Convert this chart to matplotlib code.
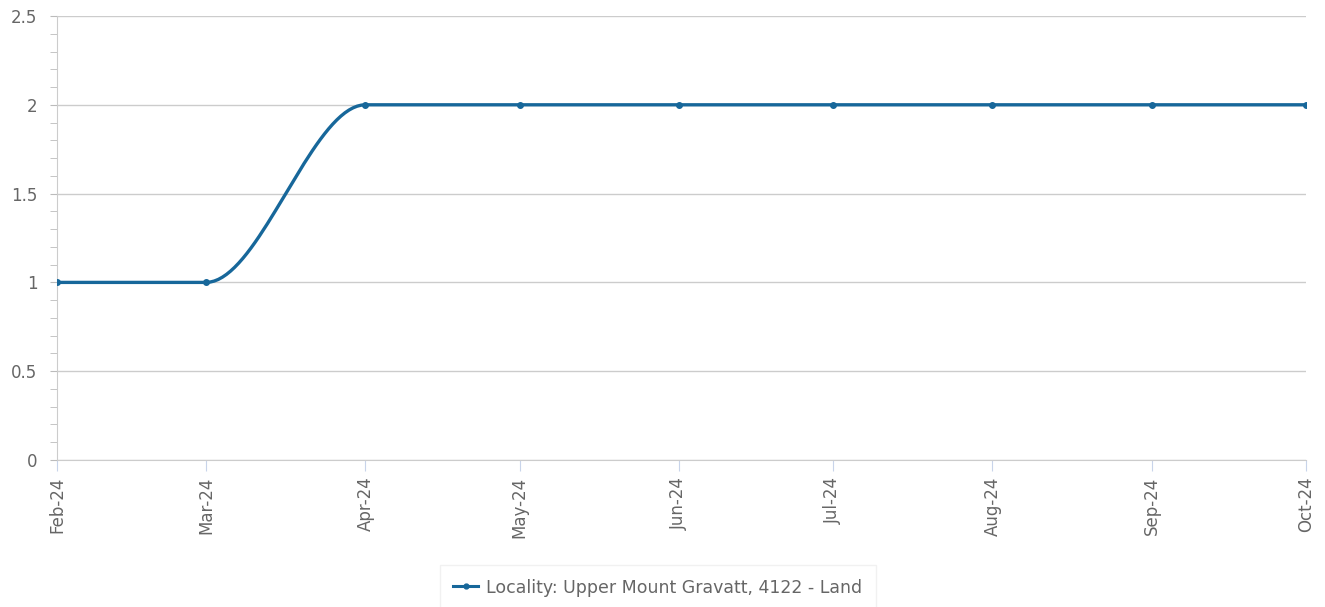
import numpy as np
import matplotlib
matplotlib.use("Agg")
import matplotlib.pyplot as plt
import matplotlib.dates as mdates
from matplotlib.ticker import MultipleLocator
from matplotlib.lines import Line2D
import datetime as dt

plt.rcParams["font.family"] = ["DejaVu Sans"]

# data
months = ["2024-02-01", "2024-03-01", "2024-04-01", "2024-05-01", "2024-06-01",
          "2024-07-01", "2024-08-01", "2024-09-01", "2024-10-01"]
values = [1, 1, 2, 2, 2, 2, 2, 2, 2]
series_name = "Locality: Upper Mount Gravatt, 4122 - Land"

line_color = "#17679a"
text_color = "#666666"
grid_color = "#cccccc"


def monotone_curve(x, y, n=40):
    # Fritsch-Carlson monotone cubic, only used to draw the smooth line
    x = np.asarray(x, float)
    y = np.asarray(y, float)
    h = np.diff(x)
    d = np.diff(y) / h
    m = np.zeros_like(y)
    m[0], m[-1] = d[0], d[-1]
    for i in range(1, len(y) - 1):
        if d[i - 1] * d[i] > 0:
            w1 = 2 * h[i] + h[i - 1]
            w2 = h[i] + 2 * h[i - 1]
            m[i] = (w1 + w2) / (w1 / d[i - 1] + w2 / d[i])
    xs, ys = [], []
    for i in range(len(h)):
        t = np.linspace(0, 1, n)
        h00 = 2 * t**3 - 3 * t**2 + 1
        h10 = t**3 - 2 * t**2 + t
        h01 = -2 * t**3 + 3 * t**2
        h11 = t**3 - t**2
        xs.append(x[i] + t * h[i])
        ys.append(h00 * y[i] + h10 * h[i] * m[i] + h01 * y[i + 1] + h11 * h[i] * m[i + 1])
    return np.concatenate(xs), np.concatenate(ys)


dates = [dt.datetime.strptime(s, "%Y-%m-%d") for s in months]
xnum = mdates.date2num(dates)
cx, cy = monotone_curve(xnum, values)

fig = plt.figure(figsize=(13.25, 6.07), dpi=100)
ax = fig.add_axes([57 / 1325, (607 - 460) / 607, (1306 - 57) / 1325, 444 / 607])

ax.plot(cx, cy, color=line_color, lw=2.4, zorder=3, solid_capstyle="round")
ax.plot(xnum, values, "o", color=line_color, ms=4, zorder=4)

ax.set_xlim(xnum[0], xnum[-1])
ax.set_ylim(0, 2.5)
ax.yaxis.set_major_locator(MultipleLocator(0.5))
ax.yaxis.set_minor_locator(MultipleLocator(0.1))
ax.yaxis.set_major_formatter(plt.FuncFormatter(lambda v, p: f"{v:g}"))
ax.grid(axis="y", which="major", color=grid_color, lw=1)
ax.set_axisbelow(True)

ax.set_xticks(xnum)
ax.set_xticklabels([d.strftime("%b-%y") for d in dates], rotation=90)

for side in ["top", "right"]:
    ax.spines[side].set_visible(False)
ax.spines["left"].set_color(grid_color)
ax.spines["bottom"].set_color(grid_color)

ax.tick_params(axis="y", which="major", length=5, color="#bbbbbb",
               labelcolor=text_color, labelsize=12, pad=9)
ax.tick_params(axis="y", which="minor", length=5, color="#bbbbbb")
ax.tick_params(axis="x", length=8, color="#c8d4ea", labelcolor=text_color,
               labelsize=12, pad=4)

handle = Line2D([], [], color=line_color, lw=2.2, marker="o", ms=3.5)
leg = fig.legend([handle], [series_name], loc="lower center",
                 bbox_to_anchor=(658 / 1325, -0.02), frameon=True,
                 fontsize=12.5, labelcolor=text_color, handlelength=1.4,
                 borderpad=0.8, handletextpad=0.5, fancybox=False)
leg.get_frame().set_edgecolor("#eeeeee")
leg.get_frame().set_linewidth(1)

fig.savefig("out.png", dpi=100)
